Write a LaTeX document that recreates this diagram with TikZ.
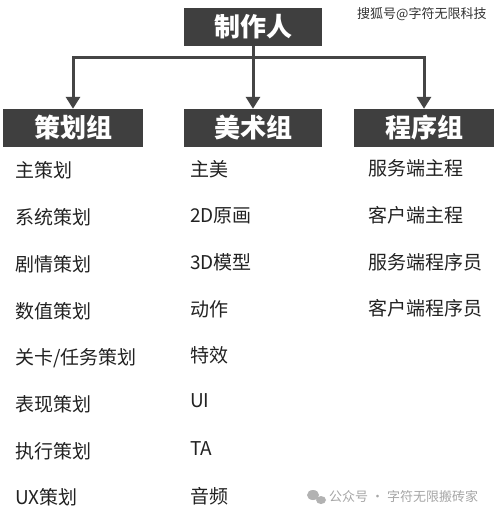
\documentclass[tikz,border=0pt]{standalone}
\usepackage{fontspec}
\setmainfont{Noto Sans CJK SC}
\newfontfamily\cjk{Noto Sans CJK SC}
\usetikzlibrary{arrows.meta}
\definecolor{boxgray}{HTML}{3F3F3F}
\definecolor{linegray}{HTML}{454545}
\definecolor{txt}{HTML}{222222}
\tikzset{
  hbox/.style={fill=boxgray, text=white, font=\cjk\bfseries\fontsize{26}{28}\selectfont, minimum height=38pt, inner sep=0pt},
  conn/.style={draw=linegray, line width=3pt},
  arr/.style={conn, -{Triangle[width=14pt,length=12pt]}},
  item/.style={anchor=west, text=txt, font=\cjk\fontsize{19}{21}\selectfont, inner sep=0pt},
  wm/.style={anchor=west, inner sep=0pt, font=\cjk\fontsize{13}{15}\selectfont}
}
\begin{document}
\begin{tikzpicture}[x=1pt,y=-1pt]
\useasboundingbox[fill=white] (0,0) rectangle (500,519);
\node[hbox, minimum width=138pt] (prod) at (253,27) {制作人};
\node[hbox, minimum width=140pt] (plan) at (73,128) {策划组};
\node[hbox, minimum width=138pt] (art) at (253,128) {美术组};
\node[hbox, minimum width=140pt] (prog) at (424,128) {程序组};
\coordinate (bar) at (0,58);
\draw[conn] (prod.south) -- (prod.south|-bar);
\draw[conn, line cap=rect] (plan.north|-bar) -- (prog.north|-bar);
\draw[arr] (plan.north|-bar) -- (plan.north);
\draw[arr] (art.north|-bar) -- (art.north);
\draw[arr] (prog.north|-bar) -- (prog.north);
% planning column
\node[item] (p1) at (15,170) {主策划};
\node[item] (p2) at (15,217) {系统策划};
\node[item] (p3) at (15,264) {剧情策划};
\node[item] (p4) at (15,311) {数值策划};
\node[item] (p5) at (15,358) {关卡/任务策划};
\node[item] (p6) at (15,404) {表现策划};
\node[item] (p7) at (15,451) {执行策划};
\node[item] (p8) at (15,497) {UX策划};
% art column
\node[item] (a1) at (190,169) {主美};
\node[item] (a2) at (190,216) {2D原画};
\node[item] (a3) at (190,262) {3D模型};
\node[item] (a4) at (190,309) {动作};
\node[item] (a5) at (190,355) {特效};
\node[item] (a6) at (190,401) {UI};
\node[item] (a7) at (190,449) {TA};
\node[item] (a8) at (190,496) {音频};
% programming column
\node[item] (g1) at (368,168) {服务端主程};
\node[item] (g2) at (368,215) {客户端主程};
\node[item] (g3) at (368,262) {服务端程序员};
\node[item] (g4) at (368,308) {客户端程序员};
% watermarks
\node[wm, text=black!80] (w1) at (357,14) {搜狐号@字符无限科技};
\fill[black!30] (313,495) ellipse (6pt and 5pt);
\fill[black!30] (321,500) ellipse (5pt and 4pt);
\node[wm, text=black!35] (w2) at (329,497) {公众号 · 字符无限搬砖家};
\end{tikzpicture}
\end{document}
